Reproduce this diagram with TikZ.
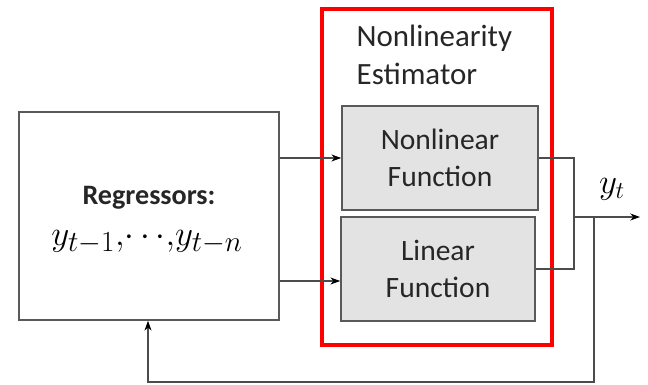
\documentclass[tikz,border=0pt]{standalone}
\usepackage{fontspec}
\setmainfont{Carlito}
\usetikzlibrary{arrows.meta}
\tikzstyle{regressor-node}=[fill=white,rectangle,draw=black!65,line width=1.1pt,minimum width=6.5cm,minimum height=5.2cm,align=center]
\tikzstyle{function-node}=[fill=black!11,rectangle,draw=black!65,line width=1.1pt,minimum height=2.6cm,align=center,font=\fontsize{21}{26}\selectfont,text=black!85]
\tikzstyle{estimator-node}=[rectangle,draw=red,line width=2.4pt,minimum width=5.75cm,minimum height=8.4cm]
\tikzstyle{empty-node}=[align=left,font=\fontsize{22}{27}\selectfont,text=black!85]
\tikzstyle{black-line}=[draw=black!70,line width=0.8pt]

\begin{document}
\begin{tikzpicture}[x=0.025cm,y=-0.025cm]
	\useasboundingbox (0,0) rectangle (648,385);
	\begin{scope}
	\node (est)[estimator-node] at (437,177) {};
	\node (reg)[regressor-node] at (149,216) {};
	\node (nl)[function-node,minimum width=4.9cm] at (440,158) {Nonlinear\\Function};
	\node (lin)[function-node,minimum width=4.85cm] at (438,269) {Linear\\Function};
	\end{scope}
	
	\begin{scope}[inner sep=1pt]
	\node (title)[empty-node,anchor=west] at (355,55) {Nonlinearity\\Estimator};
	\node (regtxt)[text=black!85,font=\fontsize{20}{24}\selectfont\bfseries] at (149,198) {Regressors:};
	\node (regvar)[font=\fontsize{28}{32}\selectfont] at (147,242) {$y_{t-1}{,}{\cdots}{,}y_{t-n}$};
	\node (yt)[font=\fontsize{25}{28}\selectfont] at (612,189) {$y_t$};
	\coordinate (sum) at (574,217);
	\coordinate (tap) at (594,217);
	\coordinate (out) at (640,217);
	\coordinate (fb1) at (594,382);
	\coordinate (fb2) at (148,382);
	\end{scope}
	
	\begin{scope}[>={Stealth[black,length=7pt,width=5pt]}, every path/.style=black-line]
	\draw [->] (reg.east |- nl.west) -- (nl.west);
	\draw [->] (reg.east |- 0,281) -- (lin.west |- 0,281);
	\draw (nl.east) -| (sum |- lin.east) -- (lin.east);
	\draw [->] (sum) -- (out);
	\draw [->] (tap) -- (fb1) -- (fb2) -- (reg.south -| fb2);
	\end{scope}
\end{tikzpicture}
\end{document}
